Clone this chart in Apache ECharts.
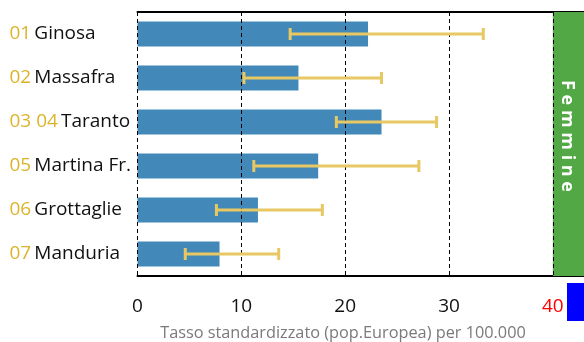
<!DOCTYPE html>
<html><head><meta charset="utf-8">
<script src="https://cdn.jsdelivr.net/npm/echarts@6/dist/echarts.min.js"></script>
<style>html,body{margin:0;padding:0;background:#fff}#c{width:584px;height:342px}</style>
</head><body><div id="c"></div>
<script>
var codes = ['01', '02', '03 04', '05', '06', '07'];
var names = ['Ginosa', 'Massafra', 'Taranto', 'Martina Fr.', 'Grottaglie', 'Manduria'];
var rates = [22.2, 15.5, 23.5, 17.4, 11.6, 7.9];
var lower = [14.7, 10.25, 19.15, 11.2, 7.6, 4.6];
var upper = [33.3, 23.5, 28.8, 27.1, 17.8, 13.6];
var ticks = [0, 10, 20, 30];
var lastTick = 40;
var panelLabel = 'F e m m i n e';
var axisTitle = 'Tasso standardizzato (pop.Europea) per 100.000';

var cats = names.map(function (n, i) { return codes[i] + '|' + n; });
var errData = cats.map(function (c, i) { return [i, lower[i], upper[i]]; });

var chart = echarts.init(document.getElementById('c'));
var FONT = 'Open Sans';
chart.setOption({
  animation: false,
  grid: { left: 137.5, right: 0, top: 12, bottom: 66, containLabel: false },
  xAxis: [{
    type: 'value', min: 0, max: 43,
    axisLine: { show: true, lineStyle: { color: '#000', width: 2 } },
    axisTick: { show: false }, axisLabel: { show: false }, splitLine: { show: false }
  }, {
    type: 'value', min: 0, max: 43, position: 'top',
    axisLine: { show: true, lineStyle: { color: '#000', width: 2 } },
    axisTick: { show: false }, axisLabel: { show: false }, splitLine: { show: false }
  }],
  yAxis: {
    type: 'category', data: cats, inverse: true,
    axisLine: { show: false }, axisTick: { show: false },
    axisLabel: {
      align: 'left', margin: 128, fontFamily: FONT,
      formatter: function (v) { var p = v.split('|'); return '{n|' + p[0] + '} {c|' + p[1] + '}'; },
      rich: {
        n: { color: '#dcb42c', fontSize: 19, fontFamily: FONT },
        c: { color: '#111', fontSize: 19, fontFamily: FONT }
      }
    }
  },
  graphic: [
    { type: 'rect', z: 200, zlevel: 5, shape: { x: 567, y: 283, width: 17, height: 38 },
      style: { fill: '#0000ff' }, silent: true },
    { type: 'text', x: 343, y: 333,
      style: { text: axisTitle, fill: '#7a7a7a', fontSize: 16.3, fontFamily: FONT,
        align: 'center', verticalAlign: 'middle' } },
    { type: 'text', x: 567, y: 136, rotation: -Math.PI / 2, z: 100,
      style: { text: panelLabel, fill: '#fff', fontSize: 18, fontWeight: 'bold', fontFamily: FONT,
        align: 'center', verticalAlign: 'middle' } }
  ],
  series: [{
    type: 'bar', data: rates, barWidth: '57%', z: 3,
    itemStyle: { color: '#4289b9' },
    markArea: { silent: true, itemStyle: { color: '#52a845' }, label: { show: false },
      data: [[{ xAxis: 40 }, { xAxis: 43 }]] }
  }, {
    type: 'line', data: [], z: 2, clip: false,
    markLine: { silent: true, symbol: 'none',
      label: { show: true, position: 'end', formatter: '{c}', distance: 21,
        color: '#111', fontSize: 19, fontFamily: FONT },
      lineStyle: { color: '#000', type: [4, 3], width: 1 },
      data: ticks.map(function (t) { return { xAxis: t }; }) }
  }, {
    type: 'line', data: [], z: 6, clip: false,
    markLine: { silent: true, symbol: 'none',
      label: { show: true, position: 'end', formatter: '{c}', distance: 21,
        color: '#ff0000', fontSize: 19, fontFamily: FONT },
      lineStyle: { color: '#000', type: [4, 3], width: 1 },
      data: [{ xAxis: lastTick }] }
  }, {
    type: 'custom', data: errData, z: 5,
    renderItem: function (params, api) {
      var y = api.value(0);
      var a = api.coord([api.value(1), y]);
      var b = api.coord([api.value(2), y]);
      var h = 6;
      var st = { stroke: '#e8c862', lineWidth: 3 };
      return { type: 'group', children: [
        { type: 'line', shape: { x1: a[0], y1: a[1], x2: b[0], y2: b[1] }, style: st },
        { type: 'line', shape: { x1: a[0], y1: a[1] - h, x2: a[0], y2: a[1] + h }, style: st },
        { type: 'line', shape: { x1: b[0], y1: b[1] - h, x2: b[0], y2: b[1] + h }, style: st }
      ] };
    }
  }]
});
</script></body></html>
